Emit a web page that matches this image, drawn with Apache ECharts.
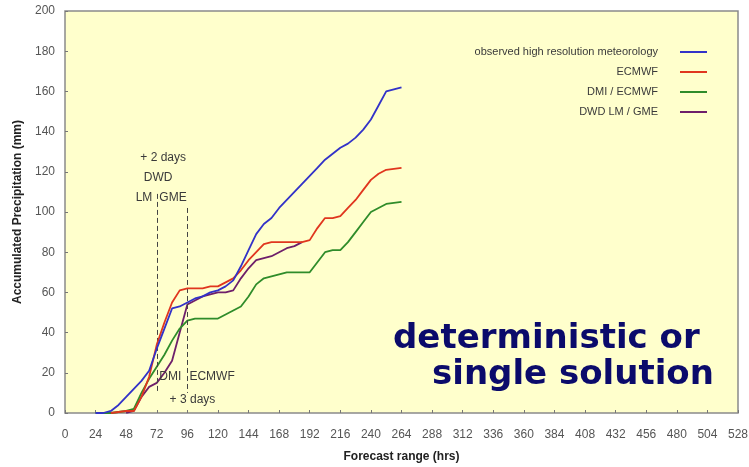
<!DOCTYPE html>
<html>
<head>
<meta charset="utf-8">
<script src="https://cdn.jsdelivr.net/npm/echarts@6/dist/echarts.min.js"></script>
<style>
  html, body { margin: 0; padding: 0; background: #ffffff; }
  #chart { width: 749px; height: 467px; }
</style>
</head>
<body>
<div id="chart"></div>
<script>
// ticks
var xMin = 0, xMax = 528, xStep = 24;
var yMin = 0, yMax = 200, yStep = 20;

// observed high resolution meteorology
var obsHours = [24, 30, 36, 42, 48, 54, 60, 66, 72, 78, 84, 90, 96, 102, 108, 114, 120, 126, 132, 138, 144, 150, 156, 162, 168, 174, 180, 186, 192, 198, 204, 210, 216, 222, 228, 234, 240, 246, 252, 258, 264];
var obsValues = [0, 0, 1, 4, 8, 12, 16, 21, 32, 42, 52, 53, 55, 57, 58, 60, 61, 63, 66, 73, 81, 89, 94, 97, 102, 106, 110, 114, 118, 122, 126, 129, 132, 134, 137, 141, 146, 153, 160, 161, 162];

// ECMWF
var ecmwfHours = [36, 42, 48, 54, 60, 66, 72, 78, 84, 90, 96, 102, 108, 114, 120, 126, 132, 138, 144, 150, 156, 162, 168, 174, 180, 186, 192, 198, 204, 210, 216, 222, 228, 234, 240, 246, 252, 258, 264];
var ecmwfValues = [0, 0.5, 1, 1, 8, 18, 34, 45, 55, 61, 62, 62, 62, 63, 63, 65, 67, 71, 76, 80, 84, 85, 85, 85, 85, 85, 86, 92, 97, 97, 98, 102, 106, 111, 116, 119, 121, 121.5, 122];

// DMI / ECMWF
var dmiHours = [24, 30, 36, 42, 48, 54, 60, 66, 72, 78, 84, 90, 96, 102, 108, 114, 120, 126, 132, 138, 144, 150, 156, 162, 168, 174, 180, 186, 192, 198, 204, 210, 216, 222, 228, 234, 240, 246, 252, 258, 264];
var dmiValues = [0, 0, 0, 0.5, 1, 2, 10, 17, 23, 29, 36, 42, 46, 47, 47, 47, 47, 49, 51, 53, 58, 64, 67, 68, 69, 70, 70, 70, 70, 75, 80, 81, 81, 85, 90, 95, 100, 102, 104, 104.5, 105];

// DWD LM / GME
var dwdHours = [48, 54, 60, 66, 72, 78, 84, 90, 96, 102, 108, 114, 120, 126, 132, 138, 144, 150, 156, 162, 168, 174, 180, 186];
var dwdValues = [0, 1, 8, 13, 15, 20, 26, 40, 54, 56, 58, 59, 60, 60, 61, 67, 72, 76, 77, 78, 80, 82, 83, 85];

var seriesNames = ["observed high resolution meteorology", "ECMWF", "DMI / ECMWF", "DWD LM / GME"];
var seriesColors = ["#3232c8", "#e0361e", "#2f8c2a", "#6e1f6a"];

// dashed markers: [hour, top, bottom]
var dashLines = [[72, 109, 10], [96, 102, 10]];

// annotation texts: [hour, value, text, align]
var notes = [
  [77, 127, "+ 2 days", "center"],
  [73, 117, "DWD", "center"],
  [68.5, 107, "LM", "right"],
  [74, 107, "GME", "left"],
  [74, 18, "DMI", "left"],
  [97.6, 18, "ECMWF", "left"],
  [100, 6.5, "+ 3 days", "center"]
];

function pairs(xs, ys) {
  return xs.map(function (x, i) { return [x, ys[i]]; });
}

var chart = echarts.init(document.getElementById("chart"));
var dataSets = [pairs(obsHours, obsValues), pairs(ecmwfHours, ecmwfValues), pairs(dmiHours, dmiValues), pairs(dwdHours, dwdValues)];

var series = seriesNames.map(function (name, i) {
  var s = {
    name: name,
    type: "line",
    data: dataSets[i],
    showSymbol: false,
    symbol: "none",
    smooth: false,
    z: 4 - i + 2,
    lineStyle: { color: seriesColors[i], width: 1.8 },
    itemStyle: { color: seriesColors[i] }
  };
  if (i === 0) {
    s.markLine = {
      silent: true,
      symbol: "none",
      label: { show: false },
      lineStyle: { color: "#444", width: 1, type: [5, 3] },
      data: dashLines.map(function (d) {
        return [{ coord: [d[0], d[1]] }, { coord: [d[0], d[2]] }];
      })
    };
  }
  return s;
});

var option = {
  animation: false,
  backgroundColor: "#ffffff",
  grid: {
    left: 65, right: 11, top: 11, bottom: 54,
    outerBoundsMode: "none",
    show: true,
    backgroundColor: "#ffffcc",
    borderColor: "#8a8a8a",
    borderWidth: 1.5
  },
  legend: {
    orient: "vertical",
    right: 37,
    top: 40,
    align: "right",
    icon: "rect",
    itemWidth: 27,
    itemHeight: 2,
    itemGap: 6,
    data: seriesNames,
    textStyle: {
      color: "#3a3a3a",
      fontSize: 11,
      fontFamily: "Liberation Sans, Arial, sans-serif",
      lineHeight: 14,
      padding: [0, 17, 0, 0]
    }
  },
  xAxis: {
    type: "value",
    min: xMin, max: xMax, interval: xStep,
    name: "Forecast range (hrs)",
    nameLocation: "middle",
    nameGap: 38,
    nameTextStyle: { color: "#222", fontSize: 12, fontWeight: "bold", fontFamily: "Liberation Sans, Arial, sans-serif" },
    axisLine: { show: false },
    axisTick: { show: true, inside: true, length: 3, lineStyle: { color: "#777" } },
    axisLabel: { color: "#555", fontSize: 12, margin: 16, fontFamily: "Liberation Sans, Arial, sans-serif" },
    splitLine: { show: false }
  },
  yAxis: {
    type: "value",
    min: yMin, max: yMax, interval: yStep,
    name: "Accumulated Precipitation (mm)",
    nameLocation: "middle",
    nameGap: 41,
    nameTextStyle: { color: "#222", fontSize: 12, fontWeight: "bold", fontFamily: "Liberation Sans, Arial, sans-serif" },
    axisLine: { show: false },
    axisTick: { show: true, inside: true, length: 3, lineStyle: { color: "#777" } },
    axisLabel: { color: "#555", fontSize: 12, margin: 10, fontFamily: "Liberation Sans, Arial, sans-serif" },
    splitLine: { show: false }
  },
  series: series
};
chart.setOption(option);

// annotation texts placed in data coordinates, plus the big caption
var graphics = notes.map(function (n) {
  var p = chart.convertToPixel({ gridIndex: 0 }, [n[0], n[1]]);
  return {
    type: "text",
    x: p[0], y: p[1],
    z: 10,
    style: {
      text: n[2],
      align: n[3],
      verticalAlign: "middle",
      fill: "#3a3a3a",
      font: "12px Liberation Sans, Arial, sans-serif"
    }
  };
});
graphics.push({
  type: "text", x: 393, y: 339, z: 10,
  style: { text: "deterministic or", align: "left", verticalAlign: "middle", fill: "#0b0b6b", font: "bold 34px DejaVu Sans, Verdana, sans-serif" }
});
graphics.push({
  type: "text", x: 432, y: 375, z: 10,
  style: { text: "single solution", align: "left", verticalAlign: "middle", fill: "#0b0b6b", font: "bold 34px DejaVu Sans, Verdana, sans-serif" }
});
chart.setOption({ graphic: graphics });

window.onresize = function () {
  chart.resize();
};
</script>
</body>
</html>
